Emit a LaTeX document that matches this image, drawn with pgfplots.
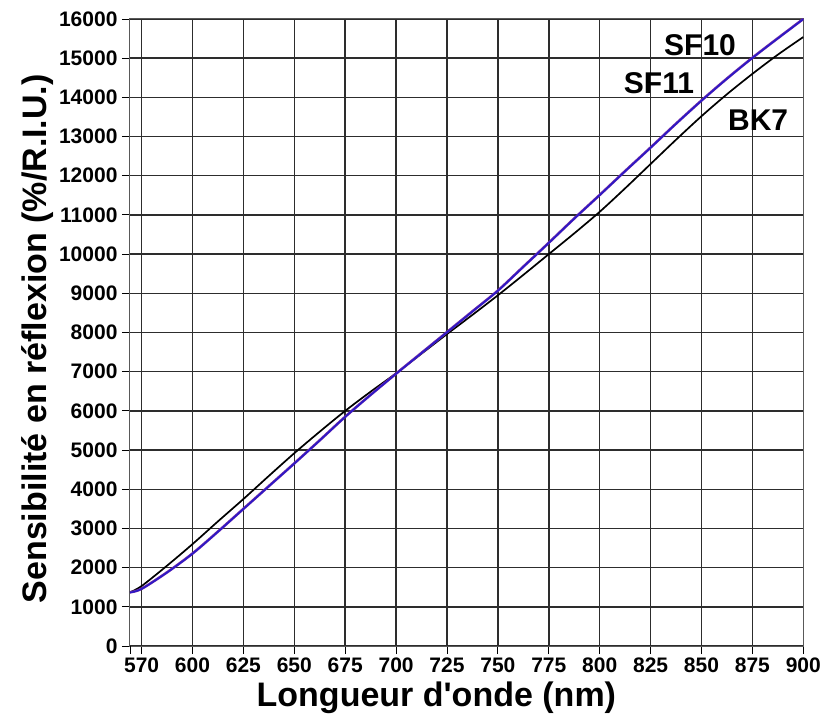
\documentclass[border=0pt]{standalone}
\usepackage{fontspec}
\setmainfont{Liberation Sans}[Ligatures=TeXOff]
\usepackage{pgfplots}
\pgfplotsset{compat=1.18}
\definecolor{gridc}{RGB}{45,45,45}
\definecolor{sften}{RGB}{110,40,170}
\definecolor{sfeleven}{RGB}{40,25,200}
\begin{document}
\begin{tikzpicture}
\begin{axis}[
  scale only axis,
  width=673.3pt, height=627pt,
  xmin=569.3, xmax=900, ymin=0, ymax=16000,
  xtick={575,600,625,650,675,700,725,750,775,800,825,850,875,900},
  xticklabels={570,600,625,650,675,700,725,750,775,800,825,850,875,900},
  extra x ticks={569.3}, extra x tick labels={}, extra x tick style={grid=none},
  ytick={0,1000,...,16000},
  /pgf/number format/assume math mode=true,
  /pgf/number format/set thousands separator={},
  scaled y ticks=false,
  tick pos=left, tick align=outside,
  major tick length=8pt,
  tick style={black, line width=0.9pt},
  grid=major,
  major grid style={gridc, line width=1.5pt},
  axis line style={gray!70!black, line width=1pt},
  ticklabel style={font=\fontsize{21}{21}\selectfont\bfseries},
  xticklabel style={yshift=-3pt, inner sep=1pt},
  yticklabel style={xshift=-1pt},
  xlabel={Longueur d'onde (nm)},
  ylabel={Sensibilité en réflexion (\%/R.I.U.)},
  xlabel style={font=\fontsize{34}{34}\selectfont\bfseries, at={(axis description cs:0.455,-0.083)}, anchor=center, inner sep=0pt},
  ylabel style={font=\fontsize{34}{34}\selectfont\bfseries, at={(axis description cs:-0.138,0.49)}, anchor=center},
  clip=true,
]
% BK7
\addplot[black, line width=1.7pt, smooth, tension=0.5] coordinates {
(569.3,1370) (575,1530) (587.5,2050) (600,2600) (612.5,3180) (625,3750)
(637.5,4340) (650,4920) (662.5,5470) (675,6000) (687.5,6490) (700,6960)
(712.5,7460) (725,7960) (737.5,8450) (750,8950) (762.5,9470) (775,10000)
(787.5,10530) (800,11080) (812.5,11680) (825,12300) (837.5,12920)
(850,13520) (862.5,14080) (875,14600) (887.5,15090) (900,15540)
};
% SF10
\addplot[sften, line width=2.6pt, smooth, tension=0.5] coordinates {
(569.3,1370) (575,1460) (587.5,1880) (600,2360) (612.5,2920) (625,3500)
(637.5,4080) (650,4660) (662.5,5250) (675,5850) (687.5,6410) (700,6950)
(712.5,7480) (725,8010) (737.5,8540) (750,9070) (762.5,9680) (775,10290)
(787.5,10910) (800,11510) (812.5,12120) (825,12720) (837.5,13330)
(850,13920) (862.5,14480) (875,15010) (887.5,15510) (900,16000)
};
% SF11
\addplot[sfeleven, line width=1.4pt, smooth, tension=0.5] coordinates {
(569.3,1365) (575,1455) (587.5,1875) (600,2355) (612.5,2915) (625,3495)
(637.5,4075) (650,4655) (662.5,5245) (675,5845) (687.5,6405) (700,6945)
(712.5,7475) (725,8005) (737.5,8535) (750,9065) (762.5,9675) (775,10285)
(787.5,10905) (800,11505) (812.5,12115) (825,12715) (837.5,13325)
(850,13915) (862.5,14475) (875,15005) (887.5,15505) (900,15995)
};
\node[font=\fontsize{30}{30}\selectfont\bfseries] at (axis cs:849.3,15336) {SF10};
\node[font=\fontsize{30}{30}\selectfont\bfseries] at (axis cs:829.1,14366) {SF11};
\node[font=\fontsize{30}{30}\selectfont\bfseries] at (axis cs:877.8,13422) {BK7};
\end{axis}
\path ([shift={(-130pt,-72pt)}]current axis.south west) rectangle ([shift={(21.7pt,19pt)}]current axis.north east);
\end{tikzpicture}
\end{document}
